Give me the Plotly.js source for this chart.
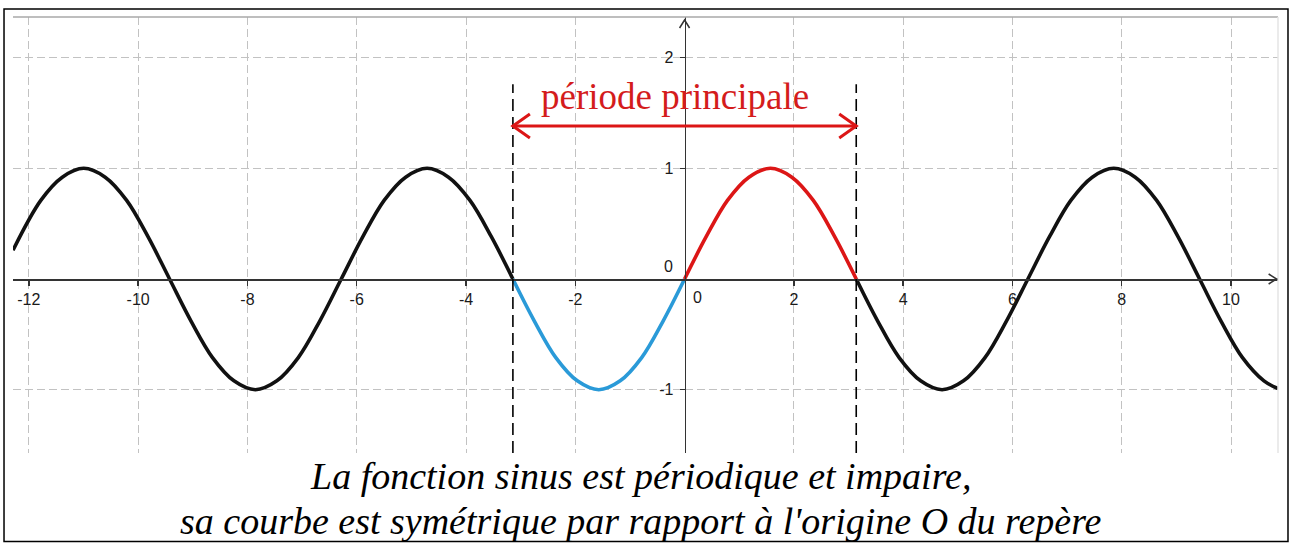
<!DOCTYPE html>
<html>
<head>
<meta charset="utf-8">
<script src="https://cdn.plot.ly/plotly-3.0.1.min.js"></script>
<style>
html,body{margin:0;padding:0;background:#fff;}
#chart{width:1290px;height:543px;}
</style>
</head>
<body>
<div id="chart"></div>
<script>
// ---- data ----
const leftX  = [-12.29,-11.781,-11.388,-10.996,-10.603,-10.210,-9.817,-9.425,-9.032,-8.639,-8.247,-7.854,-7.461,-7.069,-6.676,-6.283,-5.890,-5.498,-5.105,-4.712,-4.320,-3.927,-3.534,-3.142];
const leftY  = [0.26,0.71,0.92,1,0.92,0.71,0.38,0,-0.38,-0.71,-0.92,-1,-0.92,-0.71,-0.38,0,0.38,0.71,0.92,1,0.92,0.71,0.38,0];
const blueX  = [-3.142,-2.749,-2.356,-1.963,-1.571,-1.178,-0.785,-0.393,0];
const blueY  = [0,-0.38,-0.71,-0.92,-1,-0.92,-0.71,-0.38,0];
const redX   = [0,0.393,0.785,1.178,1.571,1.963,2.356,2.749,3.142];
const redY   = [0,0.38,0.71,0.92,1,0.92,0.71,0.38,0];
const rightX = [3.142,3.534,3.927,4.320,4.712,5.105,5.498,5.890,6.283,6.676,7.069,7.461,7.854,8.247,8.639,9.032,9.425,9.817,10.210,10.603,10.86];
const rightY = [0,-0.38,-0.71,-0.92,-1,-0.92,-0.71,-0.38,0,0.38,0.71,0.92,1,0.92,0.71,0.38,0,-0.38,-0.71,-0.92,-0.99];

const xTickVals = [-12,-10,-8,-6,-4,-2,2,4,6,8,10];
const xTickText = ['-12','-10','-8','-6','-4','-2','2','4','6','8','10'];
const yTickVals = [-1,1,2];
const yTickText = ['-1','1','2'];

const periodStart = -3.14159;
const periodEnd = 3.14159;
const arrowLevel = 1.382;
const periodLabel = 'période principale';
const caption1 = 'La fonction sinus est périodique et impaire,';
const caption2 = "sa courbe est symétrique par rapport à l'origine O du repère";

const xRange = [-12.29, 10.86];
const yRange = [-1.572, 2.367];

// ---- figure ----
const BLACK = '#111111', RED = '#dc1616', BLUE = '#2a9ad8', AXIS = '#333333', GRID = '#c2c2c2';
const curve = (x, y, c) => ({x, y, type:'scatter', mode:'lines', line:{color:c, width:3.6, shape:'spline', smoothing:1}, hoverinfo:'skip', showlegend:false, cliponaxis:true});
const traces = [curve(leftX,leftY,BLACK), curve(rightX,rightY,BLACK), curve(blueX,blueY,BLUE), curve(redX,redY,RED)];

const xPos = (0 - xRange[0]) / (xRange[1] - xRange[0]);
const yPos = (0 - yRange[0]) / (yRange[1] - yRange[0]);
const tickFont = {family:'Liberation Sans, Arial, sans-serif', size:16, color:'#1a1a1a'};

const pix = (xa, ya, path, color, w) => ({type:'path', xref:'x', yref:'y', xsizemode:'pixel', ysizemode:'pixel', xanchor:xa, yanchor:ya, path, line:{color, width:w}, layer:'above'});

const shapes = [
  // outer frame
  {type:'rect', xref:'paper', yref:'paper', x0:-0.0071, x1:1.0079, y0:-0.2030, y1:1.0183, line:{color:'#000', width:1.5}, layer:'above'},
  // top border of graphics view
  {type:'line', xref:'paper', yref:'paper', x0:0, x1:1, y0:1, y1:1, line:{color:'#a8a8a8', width:1.5}},
  {type:'line', xref:'paper', yref:'paper', x0:1, x1:1, y0:0, y1:1, line:{color:'#e4e4e4', width:1.5}},
  // dashed period boundaries
  {type:'line', xref:'x', yref:'y', x0:periodStart, x1:periodStart, y0:yRange[0], y1:1.76, line:{color:'#000', width:1.6, dash:'12px,6px'}, layer:'above'},
  {type:'line', xref:'x', yref:'y', x0:periodEnd, x1:periodEnd, y0:yRange[0], y1:1.76, line:{color:'#000', width:1.6, dash:'12px,6px'}, layer:'above'},
  // red double arrow
  {type:'line', xref:'x', yref:'y', x0:periodStart, x1:periodEnd, y0:arrowLevel, y1:arrowLevel, line:{color:RED, width:3}, layer:'above'},
  pix(periodStart, arrowLevel, 'M 17 12 L 0 0 L 17 -12', RED, 3),
  pix(periodEnd, arrowLevel, 'M -17 12 L 0 0 L -17 -12', RED, 3),
  // axis arrows
  pix(10.835, 0, 'M -8 5 L 0 0 L -8 -5', AXIS, 1.5),
  pix(0, 2.34, 'M -5 -8 L 0 0 L 5 -8', AXIS, 1.5)
];

const annotations = [
  {xref:'x', yref:'y', x:-0.17, y:1.65, text:periodLabel, showarrow:false, xanchor:'center', yanchor:'middle',
   font:{family:'Liberation Serif, Times New Roman, serif', size:37, color:'#d41c1c'}},
  {xref:'x', yref:'y', x:0.23, y:-0.163, text:'0', showarrow:false, font:tickFont},
  {xref:'x', yref:'y', x:-0.30, y:0.11, text:'0', showarrow:false, font:tickFont},
  {xref:'paper', yref:'paper', x:0.4964, y:-0.053, text:'<i>'+caption1+'</i>', showarrow:false, xanchor:'center', yanchor:'middle',
   font:{family:'Liberation Serif, Times New Roman, serif', size:38, color:'#000'}},
  {xref:'paper', yref:'paper', x:0.4964, y:-0.155, text:'<i>'+caption2+'</i>', showarrow:false, xanchor:'center', yanchor:'middle',
   font:{family:'Liberation Serif, Times New Roman, serif', size:38, color:'#000'}}
];

const layout = {
  width:1290, height:543,
  margin:{l:13, r:12, t:17, b:90, pad:0},
  paper_bgcolor:'#fff', plot_bgcolor:'#fff',
  showlegend:false, hovermode:false,
  xaxis:{range:xRange, anchor:'free', position:yPos, showline:true, linecolor:AXIS, linewidth:1.6,
         tickmode:'array', tickvals:xTickVals, ticktext:xTickText, ticks:'outside', ticklen:5, tickwidth:1.5, tickcolor:AXIS,
         tickfont:tickFont, showgrid:true, gridcolor:GRID, gridwidth:1, griddash:'8px,4px', zeroline:false, fixedrange:true},
  yaxis:{range:yRange, anchor:'free', position:xPos, showline:true, linecolor:AXIS, linewidth:1.6,
         tickmode:'array', tickvals:yTickVals, ticktext:yTickText, ticks:'outside', ticklen:5, tickwidth:1.5, tickcolor:AXIS,
         ticklabelstandoff:3,
         tickfont:tickFont, showgrid:true, gridcolor:GRID, gridwidth:1, griddash:'8px,4px', zeroline:false, fixedrange:true},
  shapes, annotations
};

Plotly.newPlot('chart', traces, layout, {displayModeBar:false, staticPlot:true});
</script>
</body>
</html>
